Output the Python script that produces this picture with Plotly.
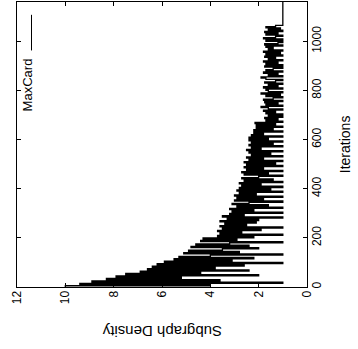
import plotly.graph_objects as go

iterations = list(range(0, 1065, 5))
density = [
    # 0-95
    10.0, 4.0, 9.4, 1.0, 8.9, 3.6, 8.3, 5.2, 7.9, 2.0, 7.5, 4.4, 6.9, 2.4, 6.6, 3.8, 6.4, 2.6, 6.2, 1.0,
    # 100-195
    5.9, 3.1, 5.5, 2.2, 5.3, 4.0, 1.0, 5.1, 2.8, 4.9, 3.5, 2.0, 4.8, 2.4, 4.6, 3.2, 1.0, 4.4, 2.9, 4.3,
    # 200-295
    2.2, 3.7, 1.0, 3.6, 2.7, 3.7, 1.9, 3.5, 1.0, 3.6, 2.5, 3.4, 2.1, 3.6, 2.0, 3.3, 1.0, 3.5, 2.6, 3.2,
    # 300-395
    1.0, 3.1, 2.2, 3.2, 1.0, 2.9, 1.6, 3.1, 2.4, 1.0, 3.0, 1.8, 2.9, 1.0, 3.0, 2.1, 2.8, 1.0, 2.9, 1.5,
    # 400-495
    2.8, 1.0, 2.7, 1.9, 2.8, 1.0, 2.6, 1.4, 2.7, 2.0, 1.0, 2.6, 1.6, 2.7, 1.0, 2.5, 1.8, 2.6, 1.0, 2.5,
    # 500-595
    1.3, 2.6, 1.0, 2.4, 1.8, 2.5, 1.0, 2.3, 1.5, 2.4, 1.0, 2.5, 1.9, 2.3, 1.0, 2.4, 1.4, 2.3, 1.0, 2.4,
    # 600-695
    1.6, 2.4, 1.0, 2.3, 1.8, 2.2, 1.0, 2.2, 1.4, 2.1, 1.0, 2.1, 1.3, 2.15, 1.0, 1.7, 1.2, 1.75, 1.0, 1.6,
    # 700-795
    1.0, 1.7, 1.3, 1.8, 1.0, 1.6, 1.9, 1.0, 1.7, 1.2, 1.75, 1.0, 1.8, 1.4, 1.0, 1.7, 1.1, 1.9, 1.0, 1.6,
    # 800-895
    1.7, 1.0, 1.8, 1.2, 1.6, 1.0, 1.75, 1.3, 1.0, 1.7, 1.9, 1.0, 1.6, 1.2, 1.8, 1.0, 1.7, 1.4, 1.0, 1.75,
    # 900-995
    1.0, 1.7, 1.2, 1.8, 1.0, 1.6, 1.3, 1.75, 1.0, 1.7, 1.1, 1.8, 1.0, 1.6, 1.4, 1.7, 1.0, 1.75, 1.2, 1.0,
    # 1000-1060
    1.7, 1.0, 1.8, 1.3, 1.0, 1.7, 1.2, 1.75, 1.0, 1.6, 1.1, 1.7, 1.3,
]
tail_iterations = [1065, 1160]
tail_density = [1.0, 1.0]

density_ticks = [0, 2, 4, 6, 8, 10, 12]
iteration_ticks = [0, 200, 400, 600, 800, 1000]

series_name = "MaxCard"
x_title = "Subgraph Density"
y_title = "Iterations"

FONT = "Liberation Sans, Arial, Helvetica, sans-serif"

fig = go.Figure()
fig.add_trace(go.Scatter(
    x=density + tail_density,
    y=iterations + tail_iterations,
    mode="lines",
    line=dict(color="black", width=1.3, shape="vh"),
    name=series_name,
    showlegend=False,
))

axis_common = dict(
    showline=True, linecolor="black", linewidth=1, mirror="ticks",
    ticks="inside", ticklen=4, tickcolor="black", tickwidth=1,
    showgrid=False, zeroline=False,
    tickfont=dict(family=FONT, size=12, color="black"),
    tickangle=-90,
)

fig.update_layout(
    width=358, height=349,
    margin=dict(l=17, r=51, t=2, b=62),
    paper_bgcolor="white", plot_bgcolor="white",
    xaxis=dict(range=[12, 0], tickvals=density_ticks, side="bottom",
               ticklabelstandoff=-2, automargin=False, **axis_common),
    yaxis=dict(range=[0, 1160], tickvals=iteration_ticks, side="right",
               ticklabelstandoff=-1, automargin=False, **axis_common),
    showlegend=False,
)

# axis titles (rotated like the original figure)
fig.add_annotation(text=x_title, xref="paper", yref="paper", x=0.5, y=-0.158,
                   showarrow=False, textangle=180, xanchor="center", yanchor="middle",
                   font=dict(family=FONT, size=15, color="black"))
fig.add_annotation(text=y_title, xref="paper", yref="paper", x=1.13, y=0.5,
                   showarrow=False, textangle=-90, xanchor="center", yanchor="middle",
                   font=dict(family=FONT, size=14, color="black"))

# legend (rotated)
fig.add_annotation(text=series_name, xref="paper", yref="paper", x=0.037, y=0.71,
                   showarrow=False, textangle=-90, xanchor="center", yanchor="middle",
                   font=dict(family=FONT, size=13, color="black"))
fig.add_shape(type="line", xref="paper", yref="paper", x0=0.05, x1=0.05, y0=0.83, y1=0.955,
              line=dict(color="black", width=1))

fig.write_html("out.html", config={"displayModeBar": False},
               post_script="document.body.style.margin='0';")
